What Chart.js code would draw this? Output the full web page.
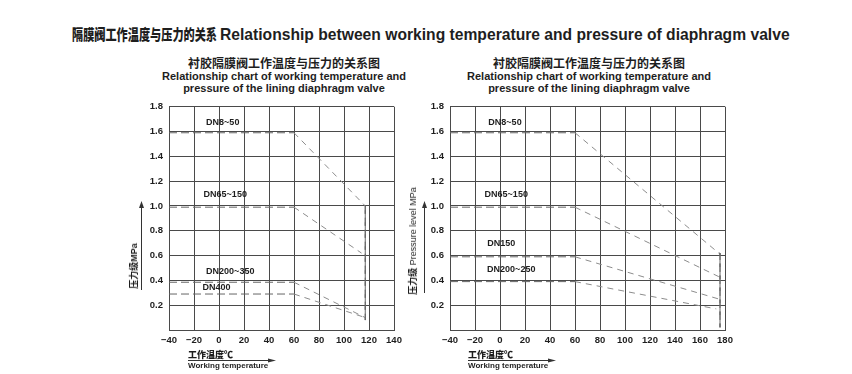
<!DOCTYPE html>
<html>
<head>
<meta charset="utf-8">
<script src="https://cdn.jsdelivr.net/npm/chart.js@4.4.1/dist/chart.umd.min.js"></script>
<style>
  body { margin: 0; width: 852px; height: 374px; background: #fff; position: relative; overflow: hidden;
         font-family: 'Liberation Sans', Arial, sans-serif; color: #1e1e1e; }
  .abs { position: absolute; white-space: nowrap; line-height: 1; }
  .cjk { font-family: 'Noto Sans CJK SC', sans-serif; }
  .ctitle { position: absolute; text-align: center; font-weight: bold; width: 300px; }
  .ctitle div { height: 12.5px; line-height: 12.5px; }
  canvas { position: absolute; }
  svg { position: absolute; left: 0; top: 0; }
</style>
</head>
<body>

<span class="abs cjk" id="mainCn" style="left:72px;top:26px;font-size:15px;font-weight:900;transform-origin:0 50%;">隔膜阀工作温度与压力的关系</span>
<span class="abs" id="mainEn" style="left:220px;top:26px;font-size:16.5px;font-weight:bold;transform-origin:0 50%;">Relationship between working temperature and pressure of diaphragm valve</span>

<div class="ctitle" style="left:134px;top:57px;">
  <div class="cjk" style="font-size:12px;">衬胶隔膜阀工作温度与压力的关系图</div>
  <div style="font-size:11px;">Relationship chart of working temperature and</div>
  <div style="font-size:11px;">pressure of the lining diaphragm valve</div>
</div>
<div class="ctitle" style="left:439px;top:57px;">
  <div class="cjk" style="font-size:12px;">衬胶隔膜阀工作温度与压力的关系图</div>
  <div style="font-size:11px;">Relationship chart of working temperature and</div>
  <div style="font-size:11px;">pressure of the lining diaphragm valve</div>
</div>

<canvas id="chartLeft" width="290" height="265" style="left:120px;top:95px;"></canvas>
<canvas id="chartRight" width="341" height="265" style="left:400px;top:95px;"></canvas>

<!-- axis titles -->
<span class="abs" style="left:134px;top:266px;font-size:9px;font-weight:bold;transform:translate(-50%,-50%) rotate(-90deg);"><span class="cjk">压力级</span>MPa</span>
<span class="abs" style="left:413px;top:241px;font-size:9px;transform:translate(-50%,-50%) rotate(-90deg);"><span class="cjk" style="font-weight:bold;">压力级</span> Pressure level MPa</span>

<span class="abs cjk" style="left:188px;top:350px;font-size:9px;font-weight:900;">工作温度℃</span>
<span class="abs" style="left:188px;top:362px;font-size:8px;font-weight:bold;">Working temperature</span>
<span class="abs cjk" style="left:468px;top:350px;font-size:9px;font-weight:900;">工作温度℃</span>
<span class="abs" style="left:468px;top:362px;font-size:8px;font-weight:bold;">Working temperature</span>

<svg width="852" height="374">
  <g stroke="#333" stroke-width="1" fill="#333">
    <line x1="141.5" y1="290" x2="141.5" y2="206"/>
    <polygon points="141.5,201 139,208 144,208" stroke="none"/>
    <line x1="424.5" y1="293" x2="424.5" y2="206"/>
    <polygon points="424.5,201 422,208 427,208" stroke="none"/>
    <line x1="188" y1="360.5" x2="270" y2="360.5"/>
    <polygon points="276,360.5 268,358.5 268,362.5" stroke="none"/>
    <line x1="468" y1="360.5" x2="550" y2="360.5"/>
    <polygon points="556,360.5 548,358.5 548,362.5" stroke="none"/>
  </g>
</svg>

<script>
// ---- left chart: temperature range -40 .. 140 ----
var leftXTicks = [-40, -20, 0, 20, 40, 60, 80, 100, 120, 140];
var leftNames = ['DN8~50', 'DN65~150', 'DN200~350', 'DN400'];
var leftTemps = [
  [-40, 60, 117, 117],
  [-40, 60, 114],
  [-40, 60, 117],
  [-40, 60, 117]
];
var leftPress = [
  [1.59, 1.59, 1.0, 0.08],
  [0.99, 0.99, 0.62],
  [0.385, 0.385, 0.1],
  [0.29, 0.29, 0.1]
];
var leftLabelT = [3, 5, 9, -2];
var leftLabelP = [1.67, 1.09, 0.47, 0.34];

// ---- right chart: temperature range -40 .. 180 ----
var rightXTicks = [-40, -20, 0, 20, 40, 60, 80, 100, 120, 140, 160, 180];
var rightNames = ['DN8~50', 'DN65~150', 'DN150', 'DN200~250'];
var rightTemps = [
  [-40, 60, 175, 176, 176],
  [-40, 60, 175],
  [-40, 60, 175],
  [-40, 60, 173]
];
var rightPress = [
  [1.59, 1.59, 0.62, 0.62, 0.02],
  [0.99, 0.99, 0.43],
  [0.59, 0.59, 0.25],
  [0.39, 0.39, 0.17]
];
var rightLabelT = [4, 5, 1, 9];
var rightLabelP = [1.67, 1.09, 0.70, 0.485];

var yTicks = [0, 0.2, 0.4, 0.6, 0.8, 1.0, 1.2, 1.4, 1.6, 1.8];

var tickFont = { family: "'Liberation Sans', Arial", size: 9.5, weight: 'bold' };

// draws the DN... names inside the plot, placed through the scales
var seriesLabels = {
  id: 'seriesLabels',
  afterDatasetsDraw: function (chart, args, opts) {
    var ctx = chart.ctx;
    var xs = chart.scales.x, ys = chart.scales.y;
    ctx.save();
    ctx.font = "bold 9px 'Liberation Sans', Arial";
    ctx.fillStyle = '#1e1e1e';
    ctx.textAlign = 'center';
    ctx.textBaseline = 'middle';
    opts.names.forEach(function (n, i) {
      ctx.fillText(n, xs.getPixelForValue(opts.t[i]), ys.getPixelForValue(opts.p[i]));
    });
    ctx.restore();
  }
};

function isStraight(c) {
  return c.p0.parsed.y === c.p1.parsed.y || c.p0.parsed.x === c.p1.parsed.x;
}

function makeChart(id, xTicks, temps, press, names, labelT, labelP, yWidth) {
  var datasets = temps.map(function (t, i) {
    return {
      label: names[i],
      data: t.map(function (v, j) { return { x: v, y: press[i][j] }; }),
      showLine: true,
      pointRadius: 0,
      borderWidth: 1,
      borderColor: '#666',
      segment: {
        borderColor: function (c) { return isStraight(c) ? '#666' : '#8c8c8c'; },
        borderDash: function (c) { return isStraight(c) ? [8, 4] : [6, 5]; }
      }
    };
  });

  return new Chart(document.getElementById(id), {
    type: 'scatter',
    data: { datasets: datasets },
    plugins: [seriesLabels],
    options: {
      responsive: false,
      animation: false,
      layout: { padding: { top: 10, right: 16, left: 0, bottom: 0 } },
      plugins: {
        legend: { display: false },
        tooltip: { enabled: false },
        seriesLabels: { names: names, t: labelT, p: labelP }
      },
      scales: {
        x: {
          type: 'linear',
          min: xTicks[0],
          max: xTicks[xTicks.length - 1],
          afterBuildTicks: function (s) { s.ticks = xTicks.map(function (v) { return { value: v }; }); },
          afterFit: function (s) { s.height = 30; },
          grid: { color: '#4a4a4a', lineWidth: 1, drawTicks: false },
          border: { color: '#4a4a4a' },
          ticks: {
            padding: 5,
            color: '#1e1e1e',
            font: tickFont,
            maxRotation: 0,
            autoSkip: false,
            callback: function (v) { return v < 0 ? '\u2212' + Math.abs(v) : String(v); }
          }
        },
        y: {
          type: 'linear',
          min: yTicks[0],
          max: yTicks[yTicks.length - 1],
          afterBuildTicks: function (s) { s.ticks = yTicks.map(function (v) { return { value: v }; }); },
          afterFit: function (s) { s.width = yWidth; },
          grid: { color: '#4a4a4a', lineWidth: 1, drawTicks: false },
          border: { color: '#4a4a4a' },
          ticks: {
            padding: 6,
            color: '#1e1e1e',
            font: tickFont,
            autoSkip: false,
            callback: function (v) { return v === 0 ? '' : v.toFixed(1); }
          }
        }
      }
    }
  });
}

makeChart('chartLeft', leftXTicks, leftTemps, leftPress, leftNames, leftLabelT, leftLabelP, 49);
makeChart('chartRight', rightXTicks, rightTemps, rightPress, rightNames, rightLabelT, rightLabelP, 50);

// squeeze the main title pieces to the widths of the original
function fitWidth(id, w) {
  var el = document.getElementById(id);
  el.style.transform = 'scaleX(' + (w / el.offsetWidth) + ')';
}
fitWidth('mainCn', 145);
fitWidth('mainEn', 570);
</script>
</body>
</html>
